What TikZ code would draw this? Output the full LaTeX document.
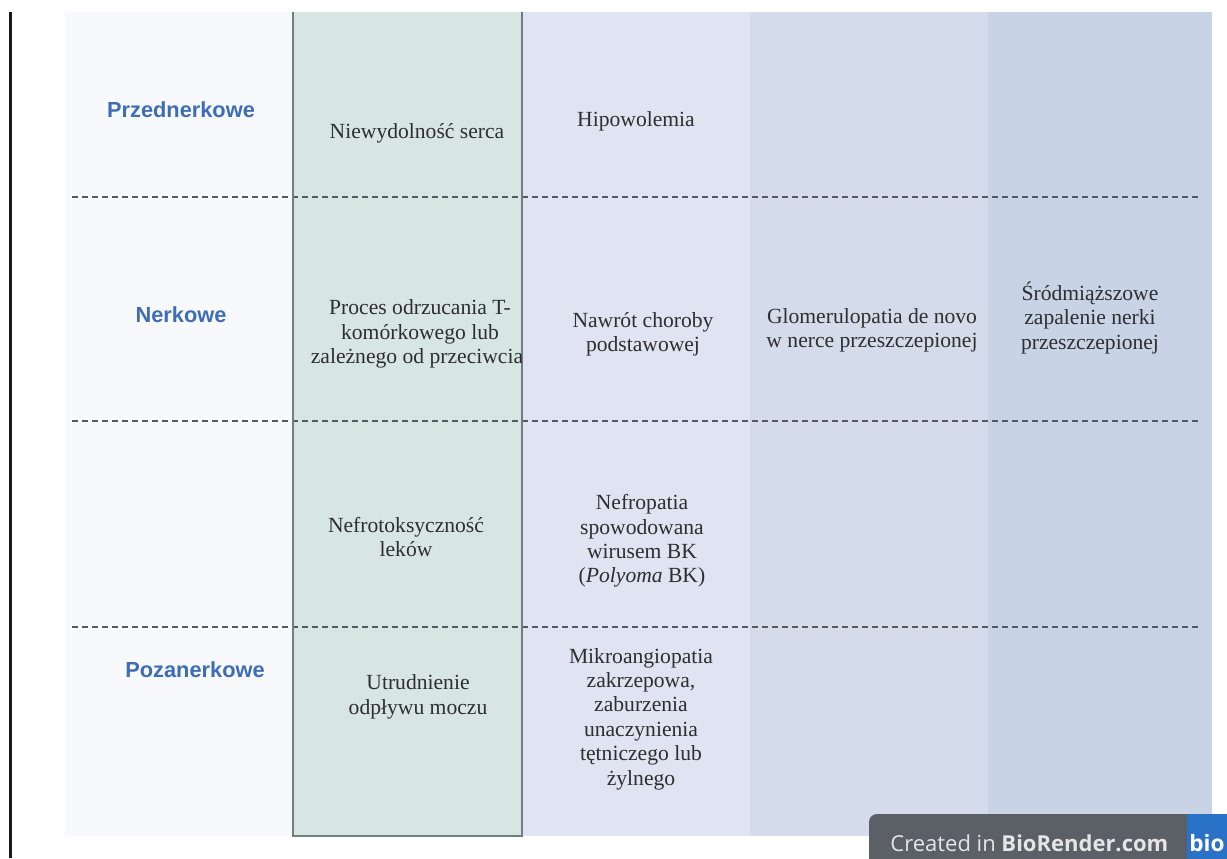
\documentclass[tikz,border=0pt]{standalone}
\usepackage{fontspec}
\setmainfont{Liberation Serif}
\setsansfont{Liberation Sans}
\newfontfamily\badgefont{Open Sans}
\usepackage{xcolor}
\usetikzlibrary{positioning}

\definecolor{headblue}{HTML}{3E6DB8}
\definecolor{celltext}{HTML}{2E2E2E}
\definecolor{colA}{HTML}{F8F9FC}
\definecolor{colB}{HTML}{D7E6E2}
\definecolor{colC}{HTML}{DFE3F2}
\definecolor{colD}{HTML}{D4DBEB}
\definecolor{colE}{HTML}{C8D3E6}
\definecolor{greenedge}{HTML}{6F7F7A}
\definecolor{dashgray}{HTML}{565A60}
\definecolor{badgegray}{HTML}{5B5F66}
\definecolor{badgeblue}{HTML}{2A72C8}

\tikzset{
  rowhead/.style={font=\sffamily\bfseries\fontsize{10.9}{13}\selectfont, text=headblue, inner sep=0pt},
  cell/.style={font=\fontsize{10.8}{12.2}\selectfont, text=celltext, align=center, inner sep=0pt},
  rowline/.style={draw=dashgray, line width=1.4pt, dash pattern=on 3pt off 2pt},
}

\begin{document}
\begin{tikzpicture}[x=0.5pt, y=-0.5pt]
\clip (0,0) rectangle (1227,858);

% === BACKGROUND: columns ===
\fill[white] (0,0) rectangle (1227,858);
\fill[colA] (65,12) rectangle (293,836);
\fill[colB] (293,12) rectangle (522,836);
\fill[colC] (522,12) rectangle (750,836);
\fill[colD] (750,12) rectangle (988,836);
\fill[colE] (988,12) rectangle (1212,836);
\draw[line width=1.5pt, black!90] (10,12) -- (10,858);

% === ROW SEPARATORS ===
\draw[rowline] (72,197) -- (1200,197);
\draw[rowline] (72,421) -- (1200,421);
\draw[rowline] (72,627) -- (1200,627);

% green column frame
\draw[greenedge, line width=1pt] (293,12) -- (293,836) -- (522,836) -- (522,12);

% === ROW HEADERS ===
\node[rowhead] (przed) at (181,110) {Przednerkowe};
\node[rowhead] (nerk) at (181,315) {Nerkowe};
\node[rowhead] (poza) at (195,670) {Pozanerkowe};

% === CELLS ===
\node[cell] (serce) at (417,133) {Niewydolność serca};
\node[cell] (hipo) at (636,121) {Hipowolemia};

\begin{scope}
\clip (293,200) rectangle (521,420);
\node[cell] (odrzut) at (420,334) {Proces odrzucania T-\\komórkowego lub\\zależnego od przeciwciał};
\end{scope}
\node[cell] (nawrot) at (643,334) {Nawrót choroby\\podstawowej};
\node[cell] (glom) at (872,330) {Glomerulopatia de novo\\w nerce przeszczepionej};
\node[cell] (srod) at (1090,318) {Śródmiąższowe\\zapalenie nerki\\przeszczepionej};

\node[cell] (leki) at (406,537) {Nefrotoksyczność\\leków};
\node[cell] (bkv) at (642,541) {Nefropatia\\spowodowana\\wirusem BK\\(\textit{Polyoma} BK)};

\node[cell] (mocz) at (418,697) {Utrudnienie\\odpływu moczu};
\node[cell] (mikro) at (641,719) {Mikroangiopatia\\zakrzepowa,\\zaburzenia\\unaczynienia\\tętniczego lub\\żylnego};

% === BADGE ===
\fill[badgegray, rounded corners=4pt] (869,814) rectangle (1195,870);
\fill[badgeblue] (1187,814) rectangle (1240,870);
\node[font=\badgefont\fontsize{11}{13}\selectfont, text=white!90!black, anchor=base west, inner sep=0pt] (badge) at (890,851) {Created in \textbf{BioRender.com}};
\node[font=\badgefont\bfseries\fontsize{11.3}{14}\selectfont, text=white, anchor=base west, inner sep=0pt] (bio) at (1189,851) {bio};

\end{tikzpicture}
\end{document}
